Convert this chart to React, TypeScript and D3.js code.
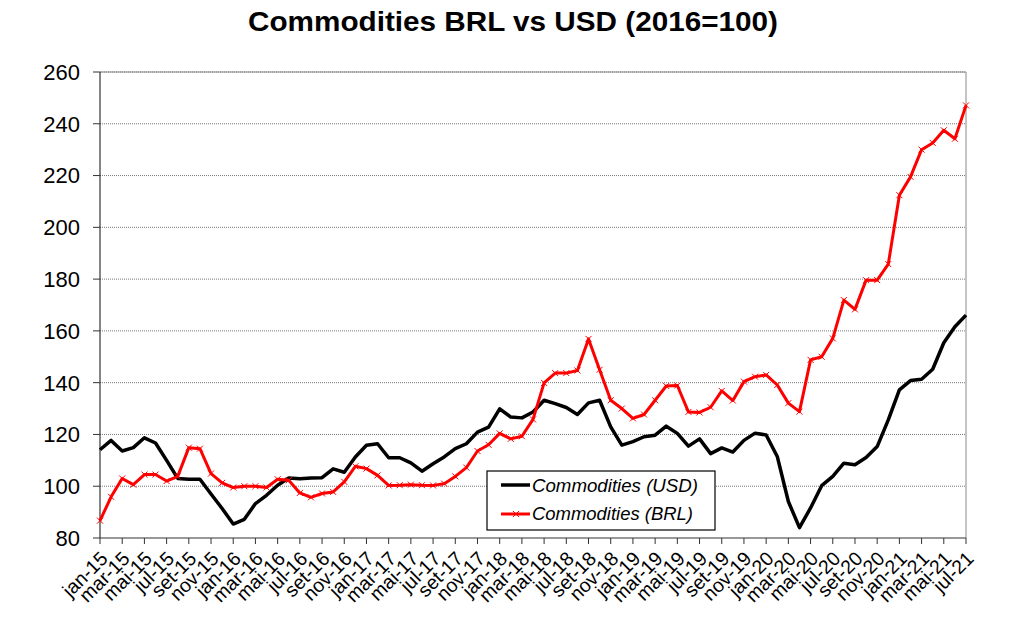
import React from "react";
import * as d3 from "d3";

const monthNames = ["jan", "fev", "mar", "abr", "mai", "jun", "jul", "ago", "set", "out", "nov", "dez"];
const startYear = 15;
const nMonths = 79;
const months: string[] = Array.from({ length: nMonths }, (_, i) => `${monthNames[i % 12]}-${startYear + Math.floor(i / 12)}`);

const usd: number[] = [
  114.1, 117.7, 113.6, 114.9, 118.7, 116.7, 110.0, 103.0, 102.7, 102.7,
  97.0, 91.4, 85.4, 87.2, 93.3, 96.5, 100.4, 103.2, 102.9, 103.2,
  103.3, 106.7, 105.4, 111.3, 115.8, 116.4, 111.0, 111.0, 109.0, 105.8,
  108.7, 111.3, 114.5, 116.4, 120.9, 122.8, 129.9, 126.7, 126.4, 128.7,
  133.2, 131.9, 130.4, 127.7, 132.2, 133.2, 122.9, 115.9, 117.2, 119.1,
  119.7, 123.2, 120.4, 115.5, 118.3, 112.6, 114.8, 113.2, 117.7, 120.5,
  119.8, 111.5, 94.1, 84.0, 91.6, 100.2, 103.8, 108.9, 108.3, 111.1,
  115.3, 125.6, 137.2, 140.8, 141.3, 145.2, 155.4, 161.6, 166.1,
];

const brl: number[] = [
  86.7, 95.9, 103.0, 100.6, 104.5, 104.5, 102.0, 103.8, 114.9, 114.5,
  104.9, 101.3, 99.5, 100.0, 100.0, 99.5, 102.7, 102.3, 97.4, 95.7,
  97.2, 97.8, 101.7, 107.7, 106.8, 104.2, 100.3, 100.4, 100.6, 100.4,
  100.3, 101.0, 103.8, 107.2, 113.6, 116.0, 120.4, 118.3, 119.3, 125.8,
  139.9, 143.7, 143.7, 144.7, 156.9, 145.0, 133.2, 130.0, 126.2, 127.7,
  133.2, 138.7, 138.9, 128.7, 128.5, 130.5, 136.8, 133.1, 140.4, 142.3,
  143.0, 139.1, 132.1, 128.8, 148.8, 150.0, 157.1, 171.9, 168.3, 179.6,
  179.6, 185.8, 212.4, 219.5, 230.0, 232.6, 237.5, 234.2, 247.1,
];

const yTicks: number[] = [80, 100, 120, 140, 160, 180, 200, 220, 240, 260];
const seriesNames = ["Commodities (USD)", "Commodities (BRL)"];
const title = "Commodities BRL vs USD (2016=100)";

export default function App() {
  const W = 1024, H = 638;
  const left = 100, right = 966, top = 72, bottom = 538;
  const x = d3.scaleLinear().domain([0, nMonths - 1]).range([left, right]);
  const y = d3.scaleLinear().domain([80, 260]).range([bottom, top]);
  const line = d3.line<number>().x((_, i) => x(i)).y((d) => y(d));
  const font = "'Liberation Sans', Arial, sans-serif";
  const labelIdx = months.map((_, i) => i).filter((i) => i % 2 === 0);

  return (
    <svg width={W} height={H} style={{ position: "absolute", left: 0, top: 0, background: "#fff" }} fontFamily={font}>
      <rect x={0} y={0} width={W} height={H} fill="#fff" />
      <text x={248} y={31} fontSize={27} fontWeight="bold" fill="#000" textLength={530} lengthAdjust="spacingAndGlyphs">{title}</text>
      {/* gridlines */}
      {yTicks.filter((t) => t !== 80).map((t) => (
        <line key={t} x1={left} x2={right} y1={y(t)} y2={y(t)} stroke="#777" strokeWidth={1} strokeDasharray="1,1" />
      ))}
      {/* frame */}
      <line x1={left} x2={right} y1={top} y2={top} stroke="#888" strokeWidth={1} />
      <line x1={right} x2={right} y1={top} y2={bottom} stroke="#888" strokeWidth={1} />
      {/* axes */}
      <line x1={left} x2={left} y1={top} y2={bottom} stroke="#333" strokeWidth={1.2} />
      <line x1={left} x2={right} y1={bottom} y2={bottom} stroke="#333" strokeWidth={1.2} />
      {yTicks.map((t) => (
        <g key={t}>
          <line x1={left - 7} x2={left} y1={y(t)} y2={y(t)} stroke="#333" strokeWidth={1} />
          <text x={80} y={y(t)} dy="0.36em" textAnchor="end" fontSize={22} fill="#000">{t}</text>
        </g>
      ))}
      {labelIdx.map((i) => (
        <g key={i}>
          <line x1={x(i)} x2={x(i)} y1={bottom} y2={bottom + 6} stroke="#333" strokeWidth={1} />
          <text transform={`translate(${x(i) + 4},${bottom + 17}) rotate(-45)`} textAnchor="end" dy="0.35em" fontSize={19.5} fill="#000">{months[i]}</text>
        </g>
      ))}
      {/* series */}
      <path d={line(usd) || ""} fill="none" stroke="#000" strokeWidth={3.5} strokeLinejoin="round" />
      <path d={line(brl) || ""} fill="none" stroke="#ff0000" strokeWidth={3} strokeLinejoin="round" />
      {brl.map((v, i) => (
        <path key={i} d={`M${x(i) - 3},${y(v) - 3}L${x(i) + 3},${y(v) + 3}M${x(i) - 3},${y(v) + 3}L${x(i) + 3},${y(v) - 3}`} stroke="#ff0000" strokeWidth={1} />
      ))}
      {/* legend */}
      <rect x={487} y={471} width={228} height={59} fill="#fff" stroke="#000" strokeWidth={1.2} />
      <line x1={501} x2={530} y1={485} y2={485} stroke="#000" strokeWidth={3.5} />
      <text x={532} y={485.5} dy="0.36em" fontSize={17.5} fontStyle="italic" fill="#000" textLength={166} lengthAdjust="spacingAndGlyphs">{seriesNames[0]}</text>
      <line x1={501} x2={530} y1={514} y2={514} stroke="#ff0000" strokeWidth={3} />
      <path d="M513,511L519,517M513,517L519,511" stroke="#ff0000" strokeWidth={1} />
      <text x={532} y={513.5} dy="0.36em" fontSize={17.5} fontStyle="italic" fill="#000" textLength={161} lengthAdjust="spacingAndGlyphs">{seriesNames[1]}</text>
    </svg>
  );
}
